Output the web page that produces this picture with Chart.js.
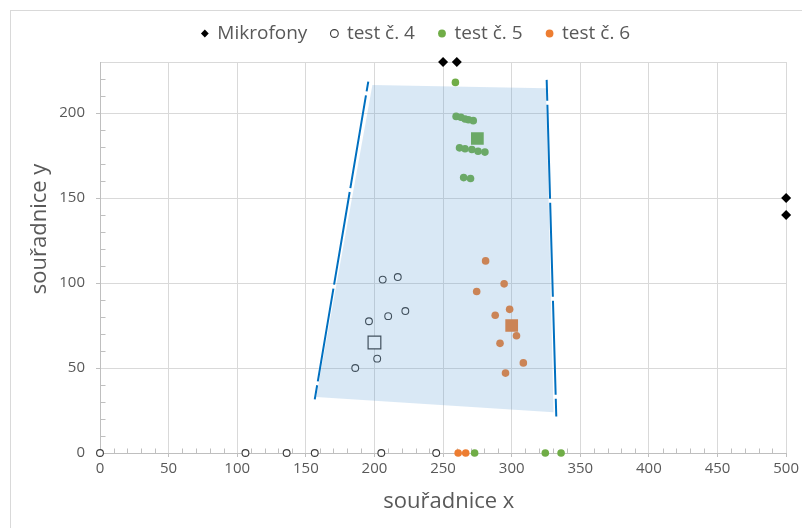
<!DOCTYPE html>
<html>
<head>
<meta charset="utf-8">
<script src="https://cdn.jsdelivr.net/npm/chart.js@4/dist/chart.umd.min.js"></script>
<style>
  html, body { margin: 0; padding: 0; background: #fff; }
  #wrap { width: 802px; height: 528px; }
</style>
</head>
<body>
<div id="wrap"><canvas id="chart" width="802" height="528"></canvas></div>
<script>
// ---- data -------------------------------------------------------------
const seriesNames = ['Mikrofony', 'test č. 4', 'test č. 5', 'test č. 6'];

// microphone positions
const micX = [250, 260, 500, 500];
const micY = [230, 230, 150, 140];

// test no. 4 (open circles), incl. points lying on the x axis
const test4X = [206, 217, 222.5, 210, 196, 202, 186, 0, 106, 136, 156.5, 205, 245];
const test4Y = [102, 103.5, 83.5, 80.5, 77.5, 55.5, 50, 0, 0, 0, 0, 0, 0];

// test no. 5 (green)
const test5X = [259, 259.5, 263, 266, 268.5, 272, 262, 266, 271, 275.5, 280.5, 265, 270, 273, 324.5, 336];
const test5Y = [218, 198, 197.5, 196.5, 196, 195.5, 179.5, 179, 178.5, 177.5, 177, 162, 161.5, 0, 0, 0];

// test no. 6 (orange)
const test6X = [281, 294.5, 274.5, 298.5, 288, 303.5, 291.5, 308.5, 295.5, 261, 266.5];
const test6Y = [113, 99.5, 95, 84.5, 81, 69, 64.5, 53, 47, 0, 0];

// mean position of each test [test4, test5, test6]
const meanX = [200, 275, 300];
const meanY = [65, 185, 75];

// shaded region (corners, clockwise from top-left)
const zoneX = [198.5, 325, 330.5, 157.5, 198.5];
const zoneY = [216.5, 214.5, 24, 33, 216.5];

// dashed boundary lines (drawn top to bottom)
const leftEdgeX = [195.5, 156.5];
const leftEdgeY = [218.5, 31.5];
const rightEdgeX = [325.5, 332.5];
const rightEdgeY = [219.5, 21.5];

// axis ticks
const xTickStep = 50, xMin = 0, xMax = 500;
const yTickStep = 50, yMin = 0, yMax = 230;
const minorStep = 10;

// ---- helpers ----------------------------------------------------------
const pts = (xs, ys) => xs.map((x, i) => ({ x: x, y: ys[i] }));
const FONT = "'Open Sans', 'Noto Sans', sans-serif";
const TEXT = '#595959';
const GRID = '#D9D9D9';
const AXIS = '#BFBFBF';
const GREEN = '#70AD47';
const ORANGE = '#ED7D31';
const EDGE = '#0070C0';

// white background + outer frame
const frame = {
  id: 'frame',
  beforeDraw(chart) {
    const ctx = chart.ctx;
    ctx.save();
    ctx.fillStyle = '#fff';
    ctx.fillRect(0, 0, chart.width, chart.height);
    ctx.strokeStyle = GRID;
    ctx.lineWidth = 1;
    ctx.strokeRect(10.5, 10.5, chart.width + 20, chart.height + 20);
    ctx.restore();
  }
};

// minor tick marks on both axes (inside the plot)
const minorTicks = {
  id: 'minorTicks',
  beforeDatasetsDraw(chart) {
    const { ctx, scales: { x, y } } = chart;
    ctx.save();
    ctx.strokeStyle = AXIS;
    ctx.lineWidth = 1;
    ctx.beginPath();
    const y0 = Math.round(y.getPixelForValue(0)) + 0.5;
    for (let v = xMin + minorStep; v < xMax; v += minorStep) {
      if (v % xTickStep === 0) continue;
      const px = Math.round(x.getPixelForValue(v)) + 0.5;
      ctx.moveTo(px, y0);
      ctx.lineTo(px, y0 - 5);
    }
    const x0 = Math.round(x.getPixelForValue(0)) + 0.5;
    for (let v = yMin + minorStep; v < yMax; v += minorStep) {
      if (v % yTickStep === 0) continue;
      const py = Math.round(y.getPixelForValue(v)) + 0.5;
      ctx.moveTo(x0, py);
      ctx.lineTo(x0 + 5, py);
    }
    ctx.stroke();
    ctx.restore();
  }
};

const datasets = [
  {
    label: seriesNames[0], data: pts(micX, micY), order: 1,
    pointStyle: 'rectRot', pointRadius: 5, pointBackgroundColor: '#000',
    pointBorderColor: '#000', pointBorderWidth: 0,
    backgroundColor: '#000', borderColor: '#000', borderWidth: 0, clip: false
  },
  {
    label: seriesNames[1], data: pts(test4X, test4Y), order: 2,
    pointStyle: 'circle', pointRadius: 3.4, pointBackgroundColor: '#fff',
    pointBorderColor: '#3a3a3a', pointBorderWidth: 1.1,
    backgroundColor: '#fff', borderColor: '#3a3a3a', borderWidth: 1.1, clip: false
  },
  {
    label: seriesNames[2], data: pts(test5X, test5Y), order: 3,
    pointStyle: 'circle', pointRadius: 3.8, pointBackgroundColor: GREEN,
    pointBorderColor: GREEN, pointBorderWidth: 0,
    backgroundColor: GREEN, borderColor: GREEN, borderWidth: 0, clip: false
  },
  {
    label: seriesNames[3], data: pts(test6X, test6Y), order: 4,
    pointStyle: 'circle', pointRadius: 3.8, pointBackgroundColor: ORANGE,
    pointBorderColor: ORANGE, pointBorderWidth: 0,
    backgroundColor: ORANGE, borderColor: ORANGE, borderWidth: 0, clip: false
  },
  {
    label: 'průměr 4', data: pts([meanX[0]], [meanY[0]]), order: 5, inLegend: false,
    pointStyle: 'rect', pointRadius: 9, pointBackgroundColor: '#fff',
    pointBorderColor: '#3a3a3a', pointBorderWidth: 1.2
  },
  {
    label: 'průměr 5', data: pts([meanX[1]], [meanY[1]]), order: 5, inLegend: false,
    pointStyle: 'rect', pointRadius: 9, pointBackgroundColor: GREEN,
    pointBorderColor: GREEN, pointBorderWidth: 0
  },
  {
    label: 'průměr 6', data: pts([meanX[2]], [meanY[2]]), order: 5, inLegend: false,
    pointStyle: 'rect', pointRadius: 9, pointBackgroundColor: ORANGE,
    pointBorderColor: ORANGE, pointBorderWidth: 0
  },
  {
    label: 'oblast', data: pts(zoneX, zoneY), order: 0, inLegend: false,
    showLine: true, fill: 'shape', tension: 0,
    backgroundColor: 'rgba(91,155,213,0.23)', borderWidth: 0, borderColor: 'rgba(0,0,0,0)',
    pointRadius: 0
  },
  {
    label: 'hranice L', data: pts(leftEdgeX, leftEdgeY), order: 0, inLegend: false,
    showLine: true, fill: false, borderColor: EDGE, borderWidth: 2,
    borderDash: [94, 4], borderDashOffset: 84, pointRadius: 0
  },
  {
    label: 'hranice P', data: pts(rightEdgeX, rightEdgeY), order: 0, inLegend: false,
    showLine: true, fill: false, borderColor: EDGE, borderWidth: 2,
    borderDash: [94, 4], borderDashOffset: 73, pointRadius: 0
  }
];

new Chart(document.getElementById('chart'), {
  type: 'scatter',
  data: { datasets: datasets },
  plugins: [frame, minorTicks],
  options: {
    responsive: false,
    animation: false,
    events: [],
    layout: { padding: { left: 44, right: 14, top: 0, bottom: 0 } },
    plugins: {
      filler: { drawTime: 'beforeDatasetDraw' },
      tooltip: { enabled: false },
      legend: {
        position: 'top',
        labels: {
          usePointStyle: true,
          boxWidth: 6,
          boxHeight: 5.5,
          padding: 24,
          color: TEXT,
          font: { family: FONT, size: 19 },
          filter: (item, data) => data.datasets[item.datasetIndex].inLegend !== false
        }
      }
    },
    scales: {
      x: {
        type: 'linear', position: 'bottom', min: xMin, max: xMax,
        afterFit: s => { s.height = 75; },
        ticks: { stepSize: xTickStep, color: TEXT, font: { family: FONT, size: 15 }, padding: 3, maxRotation: 0, autoSkip: false },
        grid: { color: GRID, tickColor: AXIS, tickLength: 4 },
        border: { color: AXIS },
        title: {
          display: true, text: '  souřadnice x', color: TEXT,
          font: { family: FONT, size: 22 }, padding: { top: 0, bottom: 13 }
        }
      },
      xTop: {
        type: 'linear', position: 'top', display: true,
        afterFit: s => { s.height = 9; },
        ticks: { display: false }, grid: { display: false }, border: { display: false }
      },
      y: {
        type: 'linear', position: 'left', min: yMin, max: yMax,
        afterFit: s => { s.width = 56; },
        ticks: {
          stepSize: yTickStep, color: TEXT, font: { family: FONT, size: 15 }, padding: 11,
          callback: v => (v % yTickStep === 0 ? v : '')
        },
        grid: {
          color: GRID, tickLength: 4,
          tickColor: c => (c.tick && c.tick.value % yTickStep === 0 ? AXIS : 'rgba(0,0,0,0)')
        },
        border: { color: AXIS },
        title: {
          display: true, text: '          souřadnice y', color: TEXT,
          font: { family: FONT, size: 22 }, padding: { top: -17, bottom: 0 }
        }
      }
    }
  }
});
</script>
</body>
</html>
